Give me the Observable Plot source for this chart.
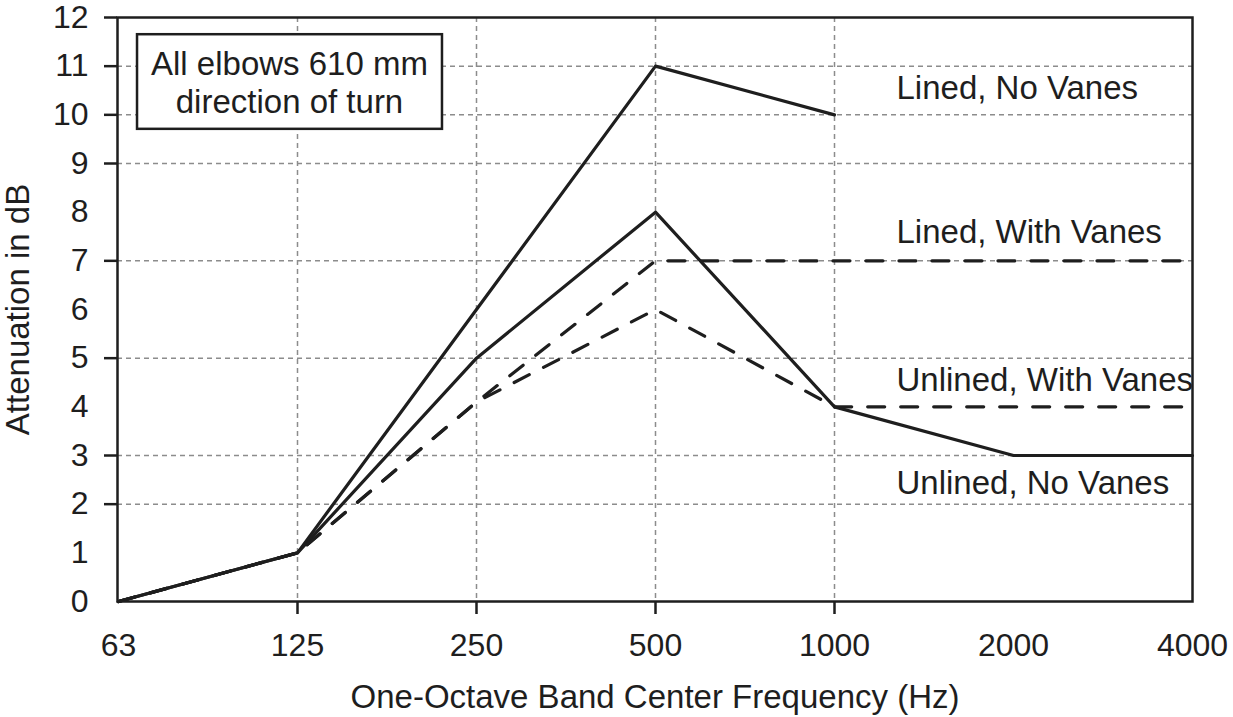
<!DOCTYPE html>
<html><head><meta charset="utf-8">
<script src="https://cdn.jsdelivr.net/npm/d3@7"></script>
<script src="https://cdn.jsdelivr.net/npm/@observablehq/plot@0.6"></script>
<style>
html,body{margin:0;padding:0;background:#fff;}
#chart svg{display:block;font-family:"Liberation Sans",Arial,Helvetica,sans-serif;}
</style></head><body><div id="chart"></div>
<script>
// ---- data ----
const frequencies = ["63", "125", "250", "500", "1000", "2000", "4000"];
const linedNoVanes = [0, 1, 6, 11, 10];
const linedWithVanes = [0, 1, 4.1, 7, 7, 7, 7];
const unlinedWithVanes = [0, 1, 4.1, 6, 4, 4, 4];
const unlinedNoVanes = [0, 1, 5, 8, 4, 3, 3];
const seriesNames = ["Lined, No Vanes", "Lined, With Vanes", "Unlined, With Vanes", "Unlined, No Vanes"];
const seriesDashed = [false, true, true, false];
const labelLevels = [10.55, 7.58, 4.55, 2.42];
const yTickLabels = [0, 1, 2, 3, 4, 5, 6, 7, 8, 9, 10, 11, 12];
const yTickMarks = [2, 3, 5, 7, 9, 10, 11, 12];
const yGridLines = [2, 3, 5, 7, 9, 10, 11];
const xTickMarks = ["125", "250", "500", "1000"];
const noteText = "All elbows 610 mm\ndirection of turn";
const xTitle = "One-Octave Band Center Frequency (Hz)";
const yTitle = "Attenuation in dB";

// ---- build table ----
const seriesValues = [linedNoVanes, linedWithVanes, unlinedWithVanes, unlinedNoVanes];
const rows = [];
seriesValues.forEach((vals, i) => vals.forEach((v, j) =>
  rows.push({series: seriesNames[i], dashed: seriesDashed[i], freq: frequencies[j], value: v})));
const labelRows = seriesNames.map((n, i) => ({name: n, level: labelLevels[i]}));

const ink = "#1e1e1e";
const gridStyle = {stroke: "#8c8c8c", strokeOpacity: 1, strokeWidth: 1.5, strokeDasharray: "5,4"};

const chart = Plot.plot({
  width: 1233, height: 717,
  marginLeft: 117, marginRight: 41, marginTop: 17, marginBottom: 116,
  style: {fontFamily: "'Liberation Sans', Arial, Helvetica, sans-serif", fontSize: "32px", color: ink, background: "#fff"},
  x: {type: "point", domain: frequencies, padding: 0},
  y: {domain: [0, 12]},
  marks: [
    Plot.ruleY(yGridLines, {y: d => d, ...gridStyle}),
    Plot.ruleX(xTickMarks, {x: d => d, ...gridStyle}),
    Plot.line(rows.filter(d => !d.dashed), {x: "freq", y: "value", z: "series", stroke: ink, strokeWidth: 3.2}),
    Plot.line(rows.filter(d => d.dashed), {x: "freq", y: "value", z: "series", stroke: ink, strokeWidth: 3.2, strokeDasharray: "17,16"}),
    Plot.frame({stroke: ink, strokeWidth: 2.5}),
    Plot.axisY({ticks: yTickMarks, tickSize: 13, tickFormat: () => "", label: null, strokeWidth: 2.5}),
    Plot.axisY({ticks: yTickLabels, tickSize: 0, tickPadding: 29, fontSize: 32, label: null}),
    Plot.axisX({ticks: xTickMarks, tickSize: 13, tickFormat: () => "", label: null, strokeWidth: 2.5}),
    Plot.axisX({ticks: frequencies, tickSize: 0, tickPadding: 32, fontSize: 32, label: null}),
    Plot.text(labelRows, {x: () => "1000", y: "level", text: "name", textAnchor: "start", dx: 62, fontSize: 33, fill: ink}),
    Plot.text([xTitle], {frameAnchor: "bottom", dy: 83, lineAnchor: "top", textAnchor: "middle", fontSize: 33, fill: ink}),
    Plot.text([yTitle], {frameAnchor: "left", rotate: -90, dx: -99, textAnchor: "middle", fontSize: 33, fill: ink}),
    Plot.text([noteText], {frameAnchor: "top-left", dx: 172, dy: 31, lineAnchor: "top", textAnchor: "middle", lineHeight: 1.14, fontSize: 33, fill: ink})
  ]
});
document.getElementById("chart").appendChild(chart);

// box behind the note text
const noteEl = Array.from(chart.querySelectorAll("text")).find(t => t.textContent.includes("All elbows"));
if (noteEl) {
  const b = noteEl.getBBox();
  const rect = document.createElementNS("http://www.w3.org/2000/svg", "rect");
  rect.setAttribute("x", b.x - 14);
  rect.setAttribute("y", b.y - 11);
  rect.setAttribute("width", b.width + 28);
  rect.setAttribute("height", b.height + 20);
  rect.setAttribute("fill", "#fff");
  rect.setAttribute("stroke", ink);
  rect.setAttribute("stroke-width", 2.5);
  const tf = noteEl.getAttribute("transform");
  if (tf) rect.setAttribute("transform", tf);
  noteEl.parentNode.insertBefore(rect, noteEl);
}
</script></body></html>
